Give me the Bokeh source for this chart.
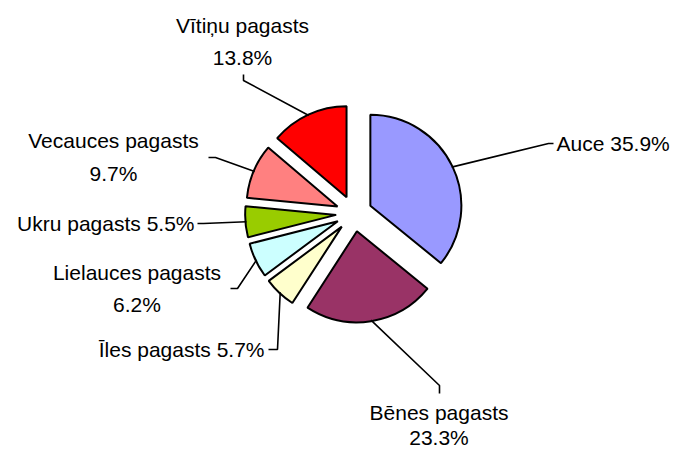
import math
from bokeh.plotting import figure
from bokeh.models import Range1d, ColumnDataSource
from bokeh.core.properties import value
from bokeh.embed import file_html
from bokeh.resources import INLINE

# ---- data ----
names = ["Auce", "Bēnes pagasts", "Īles pagasts", "Lielauces pagasts",
         "Ukru pagasts", "Vecauces pagasts", "Vītiņu pagasts"]
shares = [35.9, 23.3, 5.7, 6.2, 5.5, 9.7, 13.8]
label_texts = ["Auce 35.9%", "Bēnes pagasts\n23.3%", "Īles pagasts 5.7%",
               "Lielauces pagasts\n6.2%", "Ukru pagasts 5.5%",
               "Vecauces pagasts\n9.7%", "Vītiņu pagasts\n13.8%"]
colors = ["#9999FF", "#993366", "#FFFFCC", "#CCFFFF", "#99CC00", "#FF8080", "#FF0000"]

# ---- layout (screen px; y measured downward from top of window) ----
W, H = 678, 450
CX, CY = 353.6, 213.0
R = 91.0
EXPLODE = 18.0
# label anchor (x, y, align, line height)
label_pos = [(556, 143, "left", 1.43), (438.5, 424.5, "center", 1.12),
             (264, 349, "right", 1.43), (136.5, 288, "center", 1.43),
             (194, 223, "right", 1.43), (113, 156.5, "center", 1.43),
             (242, 41, "center", 1.43)]
# leader elbow and end points
leader_pts = [((548, 143), (553, 143)), ((439, 385), (439, 393)),
              ((277, 349), (268, 349)), ((237, 288), (230, 288)),
              ((203, 223), (197, 223)), ((215, 157), (208, 157)),
              ((243, 80), (243, 74))]


def fy(y):
    return H - y


p = figure(width=W, height=H, output_backend="svg", toolbar_location=None,
           x_range=Range1d(0, W), y_range=Range1d(0, H),
           min_border=0, outline_line_color=None)
p.axis.visible = False
p.grid.visible = False
p.background_fill_color = "white"
p.border_fill_color = "white"

total = sum(shares)
xs, ys, sa, ea = [], [], [], []
lx, ly = [], []
cum = 0.0
for s in shares:
    a0 = math.pi / 2 - 2 * math.pi * (cum + s) / total
    a1 = math.pi / 2 - 2 * math.pi * cum / total
    mid = (a0 + a1) / 2
    cx = CX + EXPLODE * math.cos(mid)
    cy = fy(CY) + EXPLODE * math.sin(mid)
    xs.append(cx); ys.append(cy); sa.append(a0); ea.append(a1)
    lx.append(cx + (R - 1) * math.cos(mid))
    ly.append(cy + (R - 1) * math.sin(mid))
    cum += s

src = ColumnDataSource(dict(x=xs, y=ys, sa=sa, ea=ea, color=colors, name=names))
p.wedge(x="x", y="y", radius=R, start_angle="sa", end_angle="ea",
        fill_color="color", line_color="black", line_width=2, source=src)

# leader lines
lxs, lys = [], []
for i in range(len(shares)):
    (ex, ey), (tx, ty) = leader_pts[i]
    lxs.append([lx[i], ex, tx])
    lys.append([ly[i], fy(ey), fy(ty)])
p.multi_line(xs=lxs, ys=lys, line_color="black", line_width=1.6)

# labels
for i, t in enumerate(label_texts):
    x, y, al, lh = label_pos[i]
    p.text(x=[x], y=[fy(y)], text=[t], text_align=al, text_baseline="middle",
           text_font=value("Liberation Sans"), text_font_size="21px",
           text_color="black", text_line_height=lh)

open("out.html", "w").write(file_html(p, INLINE))
